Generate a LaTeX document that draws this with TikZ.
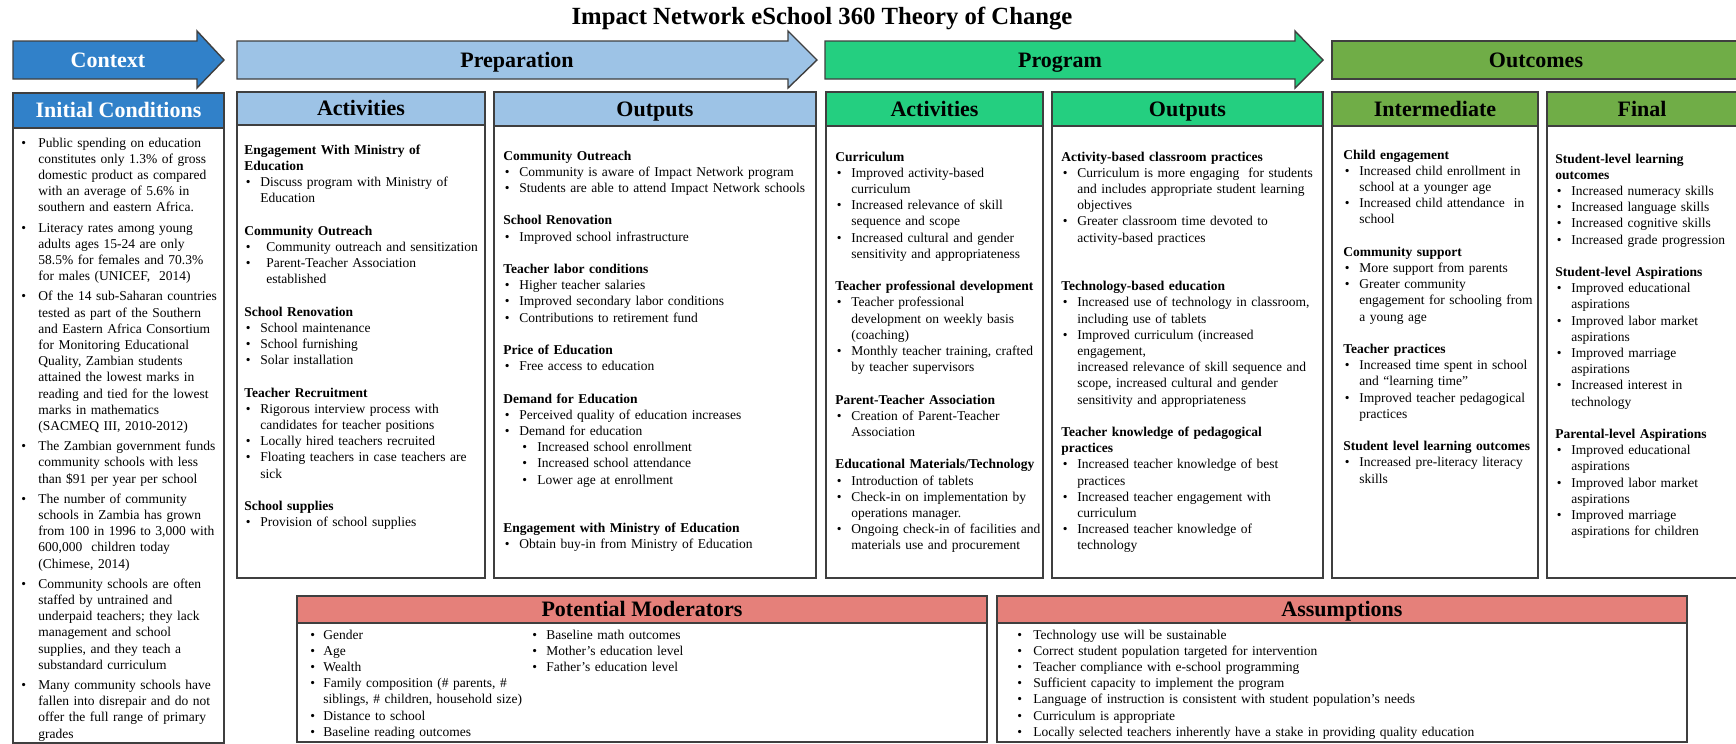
\documentclass[tikz,border=0pt]{standalone}
\usepackage{fontspec}
\setmainfont{Liberation Serif}

\definecolor{ctxblue}{HTML}{3181C9}
\definecolor{prepblue}{HTML}{9DC3E6}
\definecolor{proggreen}{HTML}{24CF80}
\definecolor{outgreen}{HTML}{70AD47}
\definecolor{salmon}{HTML}{E5807A}
\definecolor{edge}{HTML}{3F3F3F}

% indentation of bullet and of bullet text inside a text block
\newlength{\txtind}\setlength{\txtind}{8pt}
\newlength{\bulind}\setlength{\bulind}{0.75pt}

% forced line break that keeps the paragraph (and its hanging indent)
\newcommand{\nl}{\unskip\break}
% bold group heading
\newcommand{\grp}[1]{\par\noindent\textbf{#1}\par}
% bulleted entry with hanging indent
\newcommand{\itm}[1]{\par\hangindent=\txtind\hangafter=1\noindent\makebox[\txtind][l]{\hspace{\bulind}\textbullet}#1\par}
% second-level bulleted entry
\newcommand{\subitm}[1]{\par\hangindent=17pt\hangafter=1\noindent\makebox[17pt][l]{\hspace{9.5pt}\textbullet}#1\par}
% one empty line between groups
\newcommand{\blank}{\par\vspace{8.1pt}}

% panel: header strip over a white body
% #1 x left, #2 x right, #3 y top, #4 y header bottom, #5 y body bottom, #6 header fill
\newcommand{\panel}[6]{%
  \draw[frame, fill=white] (#1,#4) rectangle (#2,#5);
  \draw[frame, fill=#6] (#1,#3) rectangle (#2,#4);}

\begin{document}
\begin{tikzpicture}[x=0.5pt,y=-0.5pt,
  frame/.style={draw=edge,line width=0.7pt},
  hdlabel/.style={font=\fontsize{11}{13}\selectfont\bfseries, inner sep=0pt,
    text height=9.2pt, text depth=2pt},
  bodytext/.style={anchor=north west, inner sep=0pt, align=left,
    font=\fontsize{6.75}{8.1}\selectfont}]

\useasboundingbox (0,0) rectangle (1736,744);
\clip (0,0) rectangle (1736,744);

% title
\node[font=\fontsize{12.35}{15}\selectfont\bfseries, inner sep=0pt,
  text height=8.6pt, text depth=2.6pt] (title) at (822,19)
  {Impact Network eSchool 360 Theory of Change};

% phase arrows
\draw[frame, fill=ctxblue] (13,41) -- (197,41) -- (197,31) -- (224,60) -- (197,88) -- (197,79) -- (13,79) -- cycle;
\node[hdlabel, text=white] (ctx) at (108,60) {Context};
\draw[frame, fill=prepblue] (237,41) -- (788,41) -- (788,31) -- (817,60) -- (788,88) -- (788,79) -- (237,79) -- cycle;
\node[hdlabel] (prep) at (517,60) {Preparation};
\draw[frame, fill=proggreen] (825,41) -- (1295,41) -- (1295,31) -- (1323,60) -- (1295,88) -- (1295,79) -- (825,79) -- cycle;
\node[hdlabel] (prog) at (1060,60) {Program};
\draw[frame, fill=outgreen] (1332,41) rectangle (1745,79);
\node[hdlabel] (outc) at (1536,60) {Outcomes};

% column panels
\panel{13}{224}{93}{128}{743}{ctxblue}
\node[hdlabel, text=white] (hic) at (118.5,110.5) {Initial Conditions};
\panel{237}{485}{92}{125}{578}{prepblue}
\node[hdlabel] (hpa) at (361,108.5) {Activities};
\panel{494}{816}{92}{126}{578}{prepblue}
\node[hdlabel] (hpo) at (655,109) {Outputs};
\panel{826}{1043}{92}{126}{578}{proggreen}
\node[hdlabel] (hga) at (934.5,109) {Activities};
\panel{1052}{1323}{92}{126}{578}{proggreen}
\node[hdlabel] (hgo) at (1187.5,109) {Outputs};
\panel{1332}{1538}{92}{126}{578}{outgreen}
\node[hdlabel] (hoi) at (1435,109) {Intermediate};
\panel{1547}{1745}{92}{126}{578}{outgreen}
\node[hdlabel] (hof) at (1642,109) {Final};

% bottom panels
\panel{297}{987}{596}{623}{742}{salmon}
\node[hdlabel] (hmod) at (642,609.5) {Potential Moderators};
\panel{997}{1687}{596}{623}{742}{salmon}
\node[hdlabel] (hass) at (1342,609.5) {Assumptions};

% Initial Conditions
\node[bodytext, text width=100pt] (tic) at (21,130.5) {%
\setlength{\txtind}{8.5pt}\setlength{\bulind}{0pt}%
\itm{Public spending on education\nl constitutes only 1.3\% of gross\nl domestic product as compared\nl with an average of 5.6\% in\nl southern and eastern Africa.}\vspace{2pt}
\itm{Literacy rates among young\nl adults ages 15-24 are only\nl 58.5\% for females and 70.3\%\nl for males (UNICEF,\ \ 2014)}\vspace{2pt}
\itm{Of the 14 sub-Saharan countries\nl tested as part of the Southern\nl and Eastern Africa Consortium\nl for Monitoring Educational\nl Quality, Zambian students\nl attained the lowest marks in\nl reading and tied for the lowest\nl marks in mathematics\nl (SACMEQ III, 2010-2012)}\vspace{2pt}
\itm{The Zambian government funds\nl community schools with less\nl than \$91 per year per school}\vspace{2pt}
\itm{The number of community\nl schools in Zambia has grown\nl from 100 in 1996 to 3,000 with\nl 600,000\ \ children today\nl (Chimese, 2014)}\vspace{2pt}
\itm{Community schools are often\nl staffed by untrained and\nl underpaid teachers; they lack\nl management and school\nl supplies, and they teach a\nl substandard curriculum}\vspace{2pt}
\itm{Many community schools have\nl fallen into disrepair and do not\nl offer the full range of primary\nl grades}};

% Preparation: activities
\node[bodytext, text width=119pt] (tpa) at (244,137.5) {%
\grp{Engagement With Ministry of\nl Education}
\itm{Discuss program with Ministry of\nl Education}
\blank
\grp{Community Outreach}
{\setlength{\txtind}{11pt}%
\itm{Community outreach and sensitization}
\itm{Parent-Teacher Association\nl established}}
\blank
\grp{School Renovation}
\itm{School maintenance}
\itm{School furnishing}
\itm{Solar installation}
\blank
\grp{Teacher Recruitment}
\itm{Rigorous interview process with\nl candidates for teacher positions}
\itm{Locally hired teachers recruited}
\itm{Floating teachers in case teachers are\nl sick}
\blank
\grp{School supplies}
\itm{Provision of school supplies}};

% Preparation: outputs
\node[bodytext, text width=155pt] (tpo) at (503,143.5) {%
\grp{Community Outreach}
\itm{Community is aware of Impact Network program}
\itm{Students are able to attend Impact Network schools}
\blank
\grp{School Renovation}
\itm{Improved school infrastructure}
\blank
\grp{Teacher labor conditions}
\itm{Higher teacher salaries}
\itm{Improved secondary labor conditions}
\itm{Contributions to retirement fund}
\blank
\grp{Price of Education}
\itm{Free access to education}
\blank
\grp{Demand for Education}
\itm{Perceived quality of education increases}
\itm{Demand for education}
\subitm{Increased school enrollment}
\subitm{Increased school attendance}
\subitm{Lower age at enrollment}
\blank\blank
\grp{Engagement with Ministry of Education}
\itm{Obtain buy-in from Ministry of Education}};

% Program: activities
\node[bodytext, text width=103pt] (tga) at (835,144.5) {%
\grp{Curriculum}
\itm{Improved activity-based\nl curriculum}
\itm{Increased relevance of skill\nl sequence and scope}
\itm{Increased cultural and gender\nl sensitivity and appropriateness}
\blank
\grp{Teacher professional development}
\itm{Teacher professional\nl development on weekly basis\nl (coaching)}
\itm{Monthly teacher training, crafted\nl by teacher supervisors}
\blank
\grp{Parent-Teacher Association}
\itm{Creation of Parent-Teacher\nl Association}
\blank
\grp{Educational Materials/Technology}
\itm{Introduction of tablets}
\itm{Check-in on implementation by\nl operations manager.}
\itm{Ongoing check-in of facilities and\nl materials use and procurement}};

% Program: outputs
\node[bodytext, text width=130pt] (tgo) at (1061,144.5) {%
\grp{Activity-based classroom practices}
\itm{Curriculum is more engaging\ \ for students\nl and includes appropriate student learning\nl objectives}
\itm{Greater classroom time devoted to\nl activity-based practices}
\blank\blank
\grp{Technology-based education}
\itm{Increased use of technology in classroom,\nl including use of tablets}
\itm{Improved curriculum (increased\nl engagement,\nl increased relevance of skill sequence and\nl scope, increased cultural and gender\nl sensitivity and appropriateness}
\blank
\grp{Teacher knowledge of pedagogical\nl practices}
\itm{Increased teacher knowledge of best\nl practices}
\itm{Increased teacher engagement with\nl curriculum}
\itm{Increased teacher knowledge of\nl technology}};

% Outcomes: intermediate
\node[bodytext, text width=96.5pt] (toi) at (1343,142.5) {%
\grp{Child engagement}
\itm{Increased child enrollment in\nl school at a younger age}
\itm{Increased child attendance\ \ in\nl school}
\blank
\grp{Community support}
\itm{More support from parents}
\itm{Greater community\nl engagement for schooling from\nl a young age}
\blank
\grp{Teacher practices}
\itm{Increased time spent in school\nl and “learning time”}
\itm{Improved teacher pedagogical\nl practices}
\blank
\grp{Student level learning outcomes}
\itm{Increased pre-literacy literacy\nl skills}};

% Outcomes: final
\node[bodytext, text width=88pt] (tof) at (1555,146.5) {%
\grp{Student-level learning\nl outcomes}
\itm{Increased numeracy skills}
\itm{Increased language skills}
\itm{Increased cognitive skills}
\itm{Increased grade progression}
\blank
\grp{Student-level Aspirations}
\itm{Improved educational\nl aspirations}
\itm{Improved labor market\nl aspirations}
\itm{Improved marriage\nl aspirations}
\itm{Increased interest in\nl technology}
\blank
\grp{Parental-level Aspirations}
\itm{Improved educational\nl aspirations}
\itm{Improved labor market\nl aspirations}
\itm{Improved marriage\nl aspirations for children}};

% Potential moderators, two columns
\node[bodytext, text width=125pt] (tm1) at (310,622.5) {%
\setlength{\txtind}{6.5pt}\setlength{\bulind}{0pt}%
\itm{Gender}
\itm{Age}
\itm{Wealth}
\itm{Family composition (\# parents, \#\nl siblings, \# children, household size)}
\itm{Distance to school}
\itm{Baseline reading outcomes}};
\node[bodytext, text width=120pt] (tm2) at (532,622.5) {%
\setlength{\txtind}{7pt}\setlength{\bulind}{0pt}%
\itm{Baseline math outcomes}
\itm{Mother’s education level}
\itm{Father’s education level}};

% Assumptions
\node[bodytext, text width=320pt] (tas) at (1017,622.5) {%
\setlength{\bulind}{0pt}%
\itm{Technology use will be sustainable}
\itm{Correct student population targeted for intervention}
\itm{Teacher compliance with e-school programming}
\itm{Sufficient capacity to implement the program}
\itm{Language of instruction is consistent with student population’s needs}
\itm{Curriculum is appropriate}
\itm{Locally selected teachers inherently have a stake in providing quality education}};

\end{tikzpicture}
\end{document}
